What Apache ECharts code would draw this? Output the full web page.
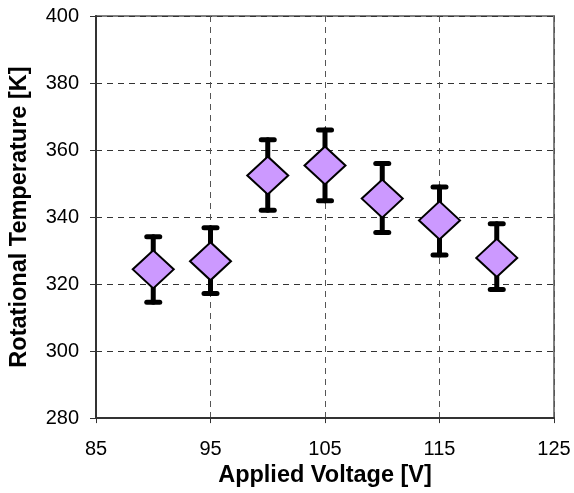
<!DOCTYPE html>
<html>
<head>
<meta charset="utf-8">
<script src="https://cdn.jsdelivr.net/npm/echarts@6/dist/echarts.min.js"></script>
<style>html,body{margin:0;padding:0;background:#fff;}#c{width:574px;height:493px;}</style>
</head>
<body>
<div id="c"></div>
<script>
const voltages = [90, 95, 100, 105, 110, 115, 120];
const temperatures = [324.4, 326.8, 352.4, 355.4, 345.5, 339.0, 327.8];
const upperErr = [334.1, 336.8, 363.1, 366.0, 356.0, 349.0, 338.0];
const lowerErr = [314.6, 317.2, 342.0, 344.9, 335.4, 328.7, 318.4];
const xTicks = [85, 95, 105, 115, 125];
const yTicks = [280, 300, 320, 340, 360, 380, 400];

const chart = echarts.init(document.getElementById('c'));
const font = 'Liberation Sans, Arial, sans-serif';
chart.setOption({
  animation: false,
  grid: { left: 95, right: 20, top: 16, bottom: 74, show: true, borderColor: '#808080', borderWidth: 2, backgroundColor: '#fff' },
  xAxis: {
    type: 'value', min: xTicks[0], max: xTicks[xTicks.length - 1], interval: 10,
    name: 'Applied Voltage [V]', nameLocation: 'middle', nameGap: 45,
    nameTextStyle: { fontFamily: font, fontSize: 23.5, fontWeight: 'bold', color: '#000' },
    axisLine: { lineStyle: { color: '#333', width: 2 } },
    axisTick: { show: true, length: 5, lineStyle: { color: '#333', width: 1 } },
    axisLabel: { fontFamily: font, fontSize: 20, color: '#000', margin: 21 },
    splitLine: { show: true, lineStyle: { color: '#555', type: [6, 5], width: 1 } }
  },
  yAxis: {
    type: 'value', min: yTicks[0], max: yTicks[yTicks.length - 1], interval: 20,
    name: 'Rotational Temperature [K]', nameLocation: 'middle', nameGap: 64,
    nameTextStyle: { fontFamily: font, fontSize: 23.5, fontWeight: 'bold', color: '#000' },
    axisLine: { show: true, lineStyle: { color: '#333', width: 2 } },
    axisTick: { show: true, length: 6, lineStyle: { color: '#333', width: 1 } },
    axisLabel: { fontFamily: font, fontSize: 20, color: '#000', margin: 17 },
    splitLine: { show: true, lineStyle: { color: '#333', type: [6, 5], width: 1 } }
  },
  series: [
    {
      type: 'custom',
      z: 2,
      data: voltages.map((v, i) => [v, lowerErr[i], upperErr[i]]),
      renderItem: function (params, api) {
        const x = api.value(0);
        const lo = api.coord([x, api.value(1)]);
        const hi = api.coord([x, api.value(2)]);
        const half = 6.5;
        const style = { stroke: '#000', lineWidth: 5, lineCap: 'round' };
        return {
          type: 'group',
          children: [
            { type: 'line', shape: { x1: hi[0], y1: hi[1], x2: lo[0], y2: lo[1] }, style: style },
            { type: 'line', shape: { x1: hi[0] - half, y1: hi[1], x2: hi[0] + half, y2: hi[1] }, style: style },
            { type: 'line', shape: { x1: lo[0] - half, y1: lo[1], x2: lo[0] + half, y2: lo[1] }, style: style }
          ]
        };
      }
    },
    {
      type: 'scatter',
      z: 3,
      symbol: 'diamond',
      symbolSize: [41, 38],
      data: voltages.map((v, i) => [v, temperatures[i]]),
      itemStyle: { color: '#CC99FF', borderColor: '#000', borderWidth: 2, opacity: 1 }
    }
  ]
});
</script>
</body>
</html>
